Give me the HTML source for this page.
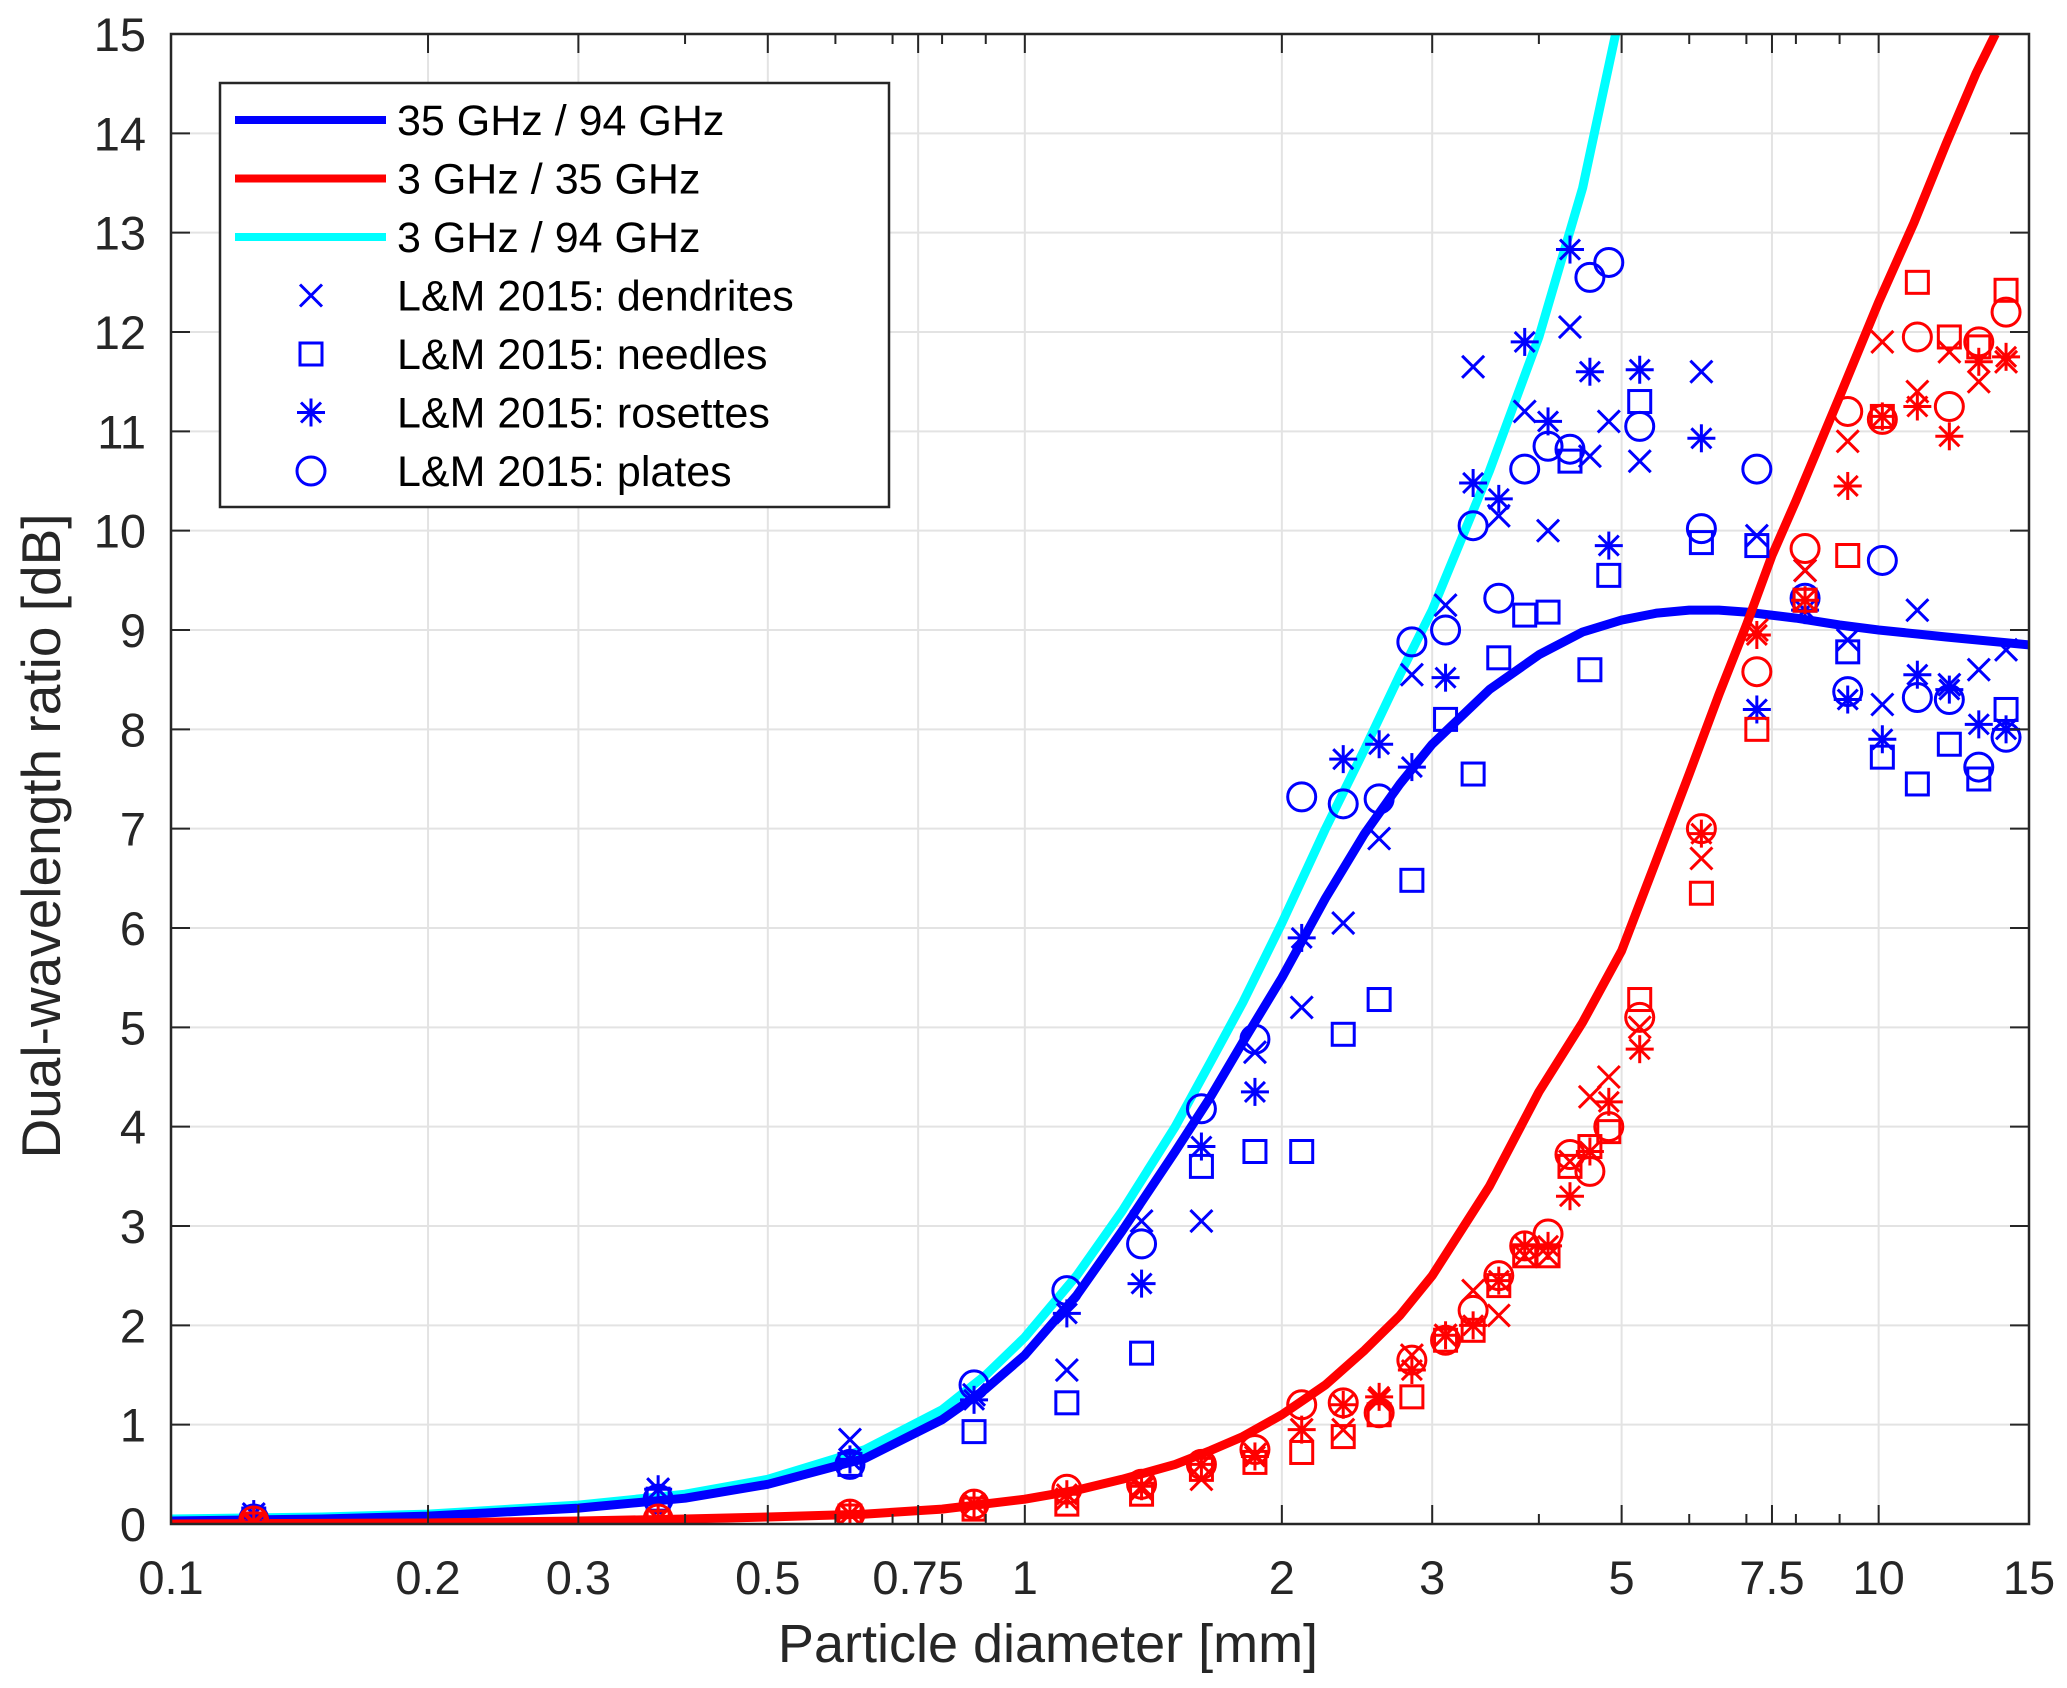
<!DOCTYPE html>
<html><head><meta charset="utf-8"><style>
html,body{margin:0;padding:0;background:#fff;}
svg{display:block;font-family:"Liberation Sans",Arial,sans-serif;}
</style></head><body>
<svg id="chart" width="2067" height="1688" viewBox="0 0 2067 1688" xmlns="http://www.w3.org/2000/svg">
<rect x="0" y="0" width="2067" height="1688" fill="#fff"/>
<g id="grid"></g>
<g id="series"></g>
<g id="axes"></g>
<text x="1048" y="1662" font-size="54" fill="#262626" text-anchor="middle">Particle diameter [mm]</text>
<text transform="translate(60,836) rotate(-90)" font-size="55" fill="#262626" text-anchor="middle">Dual-wavelength ratio [dB]</text>
<g id="legend"></g>
</svg>
<script>
const xTicks = [0.1,0.2,0.3,0.5,0.75,1,2,3,5,7.5,10,15];
const xTickLabels = ["0.1","0.2","0.3","0.5","0.75","1","2","3","5","7.5","10","15"];
const xMinor = [0.4,0.6,0.7,0.8,0.9,4,6,7,8,9];
const yTicks = [0,1,2,3,4,5,6,7,8,9,10,11,12,13,14,15];

const curveD = [0.1,0.15,0.2,0.3,0.4,0.5,0.65,0.8,0.9,1,1.15,1.3,1.5,1.65,1.8,2,2.25,2.5,2.75,3,3.5,4,4.5,5,5.5,6,6.5,7,8,9,10,12,15];
const blue = [0.03,0.05,0.08,0.16,0.26,0.4,0.66,1.05,1.36,1.7,2.3,2.95,3.75,4.3,4.85,5.5,6.3,6.95,7.45,7.85,8.4,8.75,8.98,9.1,9.17,9.2,9.2,9.18,9.12,9.05,9.0,8.93,8.85];
const cyanD = [0.1,0.15,0.2,0.3,0.4,0.5,0.65,0.8,0.9,1,1.15,1.3,1.5,1.65,1.8,2,2.25,2.5,2.75,3,3.5,4,4.5,4.92];
const cyan = [0.05,0.07,0.1,0.19,0.3,0.45,0.75,1.15,1.5,1.88,2.5,3.15,4.0,4.65,5.25,6.05,7.0,7.8,8.55,9.2,10.6,11.95,13.45,15.0];
const redD = [0.1,0.2,0.3,0.4,0.5,0.65,0.8,1,1.15,1.3,1.5,1.65,1.8,2,2.25,2.5,2.75,3,3.5,4,4.5,5,5.5,6,6.5,7,7.5,8,9,10,11,12,13,13.7];
const red = [0.0,0.01,0.03,0.05,0.07,0.1,0.15,0.25,0.34,0.45,0.6,0.74,0.88,1.1,1.4,1.75,2.1,2.5,3.4,4.35,5.05,5.77,6.7,7.55,8.35,9.05,9.75,10.3,11.35,12.3,13.1,13.9,14.6,15.0];

const markD = [0.125,0.372,0.624,0.872,1.12,1.37,1.61,1.86,2.11,2.36,2.60,2.84,3.11,3.35,3.59,3.85,4.10,4.35,4.59,4.83,5.25,6.2,7.2,8.2,9.2,10.1,11.1,12.1,13.1,14.1];
const bDend = [0.1,0.35,0.85,1.3,1.55,3.05,3.05,4.75,5.2,6.05,6.9,8.55,9.25,11.65,10.15,11.2,10.0,12.05,10.75,11.1,10.7,11.6,9.95,9.6,8.9,8.25,9.2,8.45,8.6,8.8];
const bNeed = [0.05,0.25,0.6,0.93,1.22,1.72,3.6,3.75,3.75,4.93,5.28,6.48,8.1,7.55,8.72,9.15,9.18,10.7,8.6,9.55,11.3,9.88,9.85,9.3,8.78,7.72,7.45,7.85,7.5,8.2];
const bRos = [0.1,0.35,0.65,1.25,2.12,2.42,3.8,4.35,5.9,7.7,7.85,7.62,8.52,10.48,10.32,11.9,11.1,12.83,11.6,9.85,11.62,10.93,8.2,9.2,8.3,7.9,8.55,8.4,8.05,8.0];
const bPlat = [0.05,0.25,0.6,1.4,2.35,2.82,4.18,4.88,7.32,7.25,7.3,8.88,9.0,10.05,9.32,10.62,10.85,10.82,12.55,12.7,11.05,10.02,10.62,9.32,8.38,9.7,8.32,8.3,7.62,7.92];
const rDend = [0,0.05,0.1,0.2,0.25,0.35,0.45,0.7,0.95,0.95,1.25,1.7,1.9,2.35,2.1,2.7,2.7,3.65,4.3,4.5,5.0,6.7,9.0,9.6,10.9,11.9,11.4,11.8,11.5,11.7];
const rNeed = [0,0.02,0.08,0.15,0.2,0.3,0.55,0.62,0.72,0.88,1.1,1.28,1.85,1.95,2.4,2.7,2.7,3.6,3.8,3.95,5.28,6.35,8.0,9.3,9.75,11.15,12.5,11.95,11.85,12.42];
const rRos = [0.02,0.05,0.1,0.2,0.3,0.38,0.6,0.68,0.95,1.2,1.28,1.55,1.9,2.0,2.45,2.8,2.8,3.3,3.75,4.25,4.78,6.95,8.95,9.3,10.45,11.15,11.25,10.95,11.7,11.75];
const rPlat = [0.03,0.05,0.1,0.2,0.35,0.4,0.6,0.75,1.2,1.22,1.12,1.65,1.85,2.15,2.5,2.8,2.92,3.72,3.55,4.0,5.1,7.0,8.58,9.82,11.2,11.12,11.95,11.25,11.9,12.2];

const NS = "http://www.w3.org/2000/svg";
const L = 171, R = 2029, T = 34, B = 1524;
const dec = (R - L) / Math.log10(150);
function xs(d){ return L + (Math.log10(d) - Math.log10(0.1)) * dec; }
function ys(v){ return B - v * (B - T) / 15; }
function mk(tag, attrs, parent){ const e = document.createElementNS(NS, tag); for (const k in attrs) e.setAttribute(k, attrs[k]); parent.appendChild(e); return e; }

const grid = document.getElementById('grid');
const axes = document.getElementById('axes');
xTicks.forEach((t, i) => {
  const x = xs(t);
  if (i > 0 && i < xTicks.length - 1) {
    const g = mk('line', {x1:x, x2:x, y1:T, y2:B, stroke:'#e3e3e3', 'stroke-width':2}, grid);
    
    
  }
  mk('line', {x1:x, x2:x, y1:B, y2:B-19, stroke:'#262626', 'stroke-width':2}, axes);
  mk('line', {x1:x, x2:x, y1:T, y2:T+19, stroke:'#262626', 'stroke-width':2}, axes);
  const tx = mk('text', {x:x, y:1594, 'font-size':47, fill:'#262626', 'text-anchor':'middle'}, axes);
  tx.textContent = xTickLabels[i];
  
  
});
xMinor.forEach(t => {
  const x = xs(t);
  mk('line', {x1:x, x2:x, y1:B, y2:B-10, stroke:'#262626', 'stroke-width':2}, axes);
  mk('line', {x1:x, x2:x, y1:T, y2:T+10, stroke:'#262626', 'stroke-width':2}, axes);
});
yTicks.forEach(t => {
  const y = ys(t);
  if (t > 0 && t < 15) {
    const g = mk('line', {x1:L, x2:R, y1:y, y2:y, stroke:'#e3e3e3', 'stroke-width':2}, grid);
    
    
  }
  mk('line', {x1:L, x2:L+19, y1:y, y2:y, stroke:'#262626', 'stroke-width':2}, axes);
  mk('line', {x1:R, x2:R-19, y1:y, y2:y, stroke:'#262626', 'stroke-width':2}, axes);
  const tx = mk('text', {x:146, y:y+17, 'font-size':47, fill:'#262626', 'text-anchor':'end'}, axes);
  tx.textContent = String(t);
  
  
});
const frame = mk('rect', {x:L, y:T, width:R-L, height:B-T, fill:'none', stroke:'#262626', 'stroke-width':2.5}, axes);



const ser = document.getElementById('series');
const clip = mk('clipPath', {id:'pc'}, mk('defs', {}, ser));
mk('rect', {x:L, y:T, width:R-L, height:B-T}, clip);

function marker(type, x, y, col, parent){
  const g = mk('g', {stroke:col, 'stroke-width':3, fill:'none'}, parent);
  const s = 11;
  if (type === 'x') {
    mk('line', {x1:x-s, y1:y-s, x2:x+s, y2:y+s}, g);
    mk('line', {x1:x-s, y1:y+s, x2:x+s, y2:y-s}, g);
  } else if (type === 'sq') {
    mk('rect', {x:x-11, y:y-11, width:22, height:22}, g);
  } else if (type === 'ast') {
    const r = 14;
    mk('line', {x1:x, y1:y-r, x2:x, y2:y+r}, g);
    mk('line', {x1:x-r, y1:y, x2:x+r, y2:y}, g);
    mk('line', {x1:x-10, y1:y-10, x2:x+10, y2:y+10}, g);
    mk('line', {x1:x-10, y1:y+10, x2:x+10, y2:y-10}, g);
  } else {
    mk('circle', {cx:x, cy:y, r:14}, g);
  }
  return g;
}
function curve(ds, vs, col, name){
  const p = ds.map((d, i) => (i ? 'L' : 'M') + xs(d).toFixed(1) + ',' + ys(vs[i]).toFixed(1)).join(' ');
  const e = mk('path', {d:p, fill:'none', stroke:col, 'stroke-width':9, 'stroke-linejoin':'round', 'clip-path':'url(#pc)'}, ser);
  
  
}
function scatter(vs, type, col, name){
  const g = mk('g', {'clip-path':'url(#pc)'}, ser);
  
  
  markD.forEach((d, i) => {
    const m = marker(type, xs(d), ys(vs[i]), col, g);
    
    
  });
}
curve(cyanD, cyan, '#00ffff', 'curve-3ghz-94ghz');
curve(curveD, blue, '#0000ff', 'curve-35ghz-94ghz');
curve(redD, red, '#ff0000', 'curve-3ghz-35ghz');
scatter(bDend, 'x', '#0000ff', 'blue-dendrites');
scatter(bNeed, 'sq', '#0000ff', 'blue-needles');
scatter(bRos, 'ast', '#0000ff', 'blue-rosettes');
scatter(bPlat, 'o', '#0000ff', 'blue-plates');
scatter(rDend, 'x', '#ff0000', 'red-dendrites');
scatter(rNeed, 'sq', '#ff0000', 'red-needles');
scatter(rRos, 'ast', '#ff0000', 'red-rosettes');
scatter(rPlat, 'o', '#ff0000', 'red-plates');

const leg = document.getElementById('legend');
const box = mk('rect', {x:220, y:83, width:669, height:424, fill:'#fff', stroke:'#262626', 'stroke-width':2.5}, leg);


const entries = [
  ['line','#0000ff','35 GHz / 94 GHz'],
  ['line','#ff0000','3 GHz / 35 GHz'],
  ['line','#00ffff','3 GHz / 94 GHz'],
  ['x','#0000ff','L&M 2015: dendrites'],
  ['sq','#0000ff','L&M 2015: needles'],
  ['ast','#0000ff','L&M 2015: rosettes'],
  ['o','#0000ff','L&M 2015: plates']
];
entries.forEach((e, i) => {
  const y = 120 + i * 58.5;
  const g = mk('g', {}, leg);
  
  
  if (e[0] === 'line') mk('line', {x1:235, x2:386, y1:y, y2:y, stroke:e[1], 'stroke-width':8}, g);
  else marker(e[0], 311, y, e[1], g);
  const t = mk('text', {x:397, y:y+15, 'font-size':43, fill:'#000'}, g);
  t.textContent = e[2];
});
</script>
</body></html>
